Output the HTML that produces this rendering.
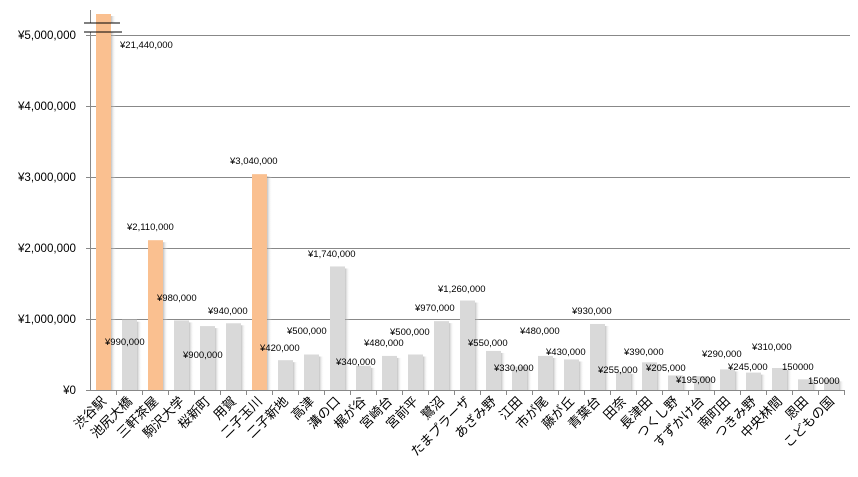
<!DOCTYPE html>
<html><head><meta charset="utf-8"><style>
html,body{margin:0;padding:0;background:#fff;width:858px;height:477px;overflow:hidden}
text{font-family:"Liberation Sans","Noto Sans CJK JP",sans-serif}
</style></head><body>
<svg width="858" height="477" xmlns="http://www.w3.org/2000/svg">
<defs><linearGradient id="sh" x1="0" x2="1"><stop offset="0" stop-color="#999" stop-opacity="0.6"/><stop offset="1" stop-color="#fff" stop-opacity="0"/></linearGradient></defs>
<g stroke="#888" stroke-width="1">
<line x1="90" y1="319.5" x2="850" y2="319.5"/>
<line x1="90" y1="248.5" x2="850" y2="248.5"/>
<line x1="90" y1="177.5" x2="850" y2="177.5"/>
<line x1="90" y1="106.5" x2="850" y2="106.5"/>
<line x1="90" y1="35.5" x2="850" y2="35.5"/>
</g>
<g id="bars"></g>
<g stroke="#888"><line x1="90.5" y1="10" x2="90.5" y2="390"/><line x1="86" y1="390.5" x2="845" y2="390.5"/>
<line x1="86" y1="319.5" x2="90" y2="319.5"/><line x1="86" y1="248.5" x2="90" y2="248.5"/><line x1="86" y1="177.5" x2="90" y2="177.5"/><line x1="86" y1="106.5" x2="90" y2="106.5"/><line x1="86" y1="35.5" x2="90" y2="35.5"/></g>
<rect x="84" y="23" width="38" height="9" fill="#fff"/>
<rect x="96" y="23" width="15" height="9" fill="#FAC090"/>
<line x1="84" y1="23" x2="120" y2="23" stroke="#000"/>
<line x1="84" y1="32" x2="122" y2="32" stroke="#000"/>
<g font-size="11.6" text-anchor="end" fill="#000">
<text x="76" y="394">¥0</text><text x="76" y="323">¥1,000,000</text><text x="76" y="252">¥2,000,000</text><text x="76" y="181">¥3,000,000</text><text x="76" y="110">¥4,000,000</text><text x="76" y="39">¥5,000,000</text>
</g>
<g id="lbl" font-size="9.5" fill="#000"></g>
<g id="cat" font-size="13" fill="#000"></g>
</svg>
<script>
var names=["渋谷駅","池尻大橋","三軒茶屋","駒沢大学","桜新町","用賀","二子玉川","二子新地","高津","溝の口","梶が谷","宮崎台","宮前平","鷺沼","たまプラーザ","あざみ野","江田","市が尾","藤が丘","青葉台","田奈","長津田","つくし野","すずかけ台","南町田","つきみ野","中央林間","恩田","こどもの国"];
var vals=[5.35e6,990000,2110000,980000,900000,940000,3040000,420000,500000,1740000,340000,480000,500000,970000,1260000,550000,330000,480000,430000,930000,255000,390000,205000,195000,290000,245000,310000,150000,150000];
var orange={0:1,2:1,6:1};
var ns="http://www.w3.org/2000/svg",b=document.getElementById("bars"),c=document.getElementById("cat"),l=document.getElementById("lbl");
function el(t,a,p){var e=document.createElementNS(ns,t);for(var k in a)e.setAttribute(k,a[k]);p.appendChild(e);return e;}
for(var i=0;i<29;i++){var x=90+26*i+6,h=Math.min(vals[i]*71/1e6,376),y=390-h;
el("rect",{x:x+15,y:y+2,width:5,height:h-2,fill:"url(#sh)"},b);
el("rect",{x:x,y:y,width:15,height:h,fill:orange[i]?"#FAC090":"#D9D9D9"},b);
var tx=90+26*(i+1);el("line",{x1:tx+.5,y1:390,x2:tx+.5,y2:395,stroke:"#888"},b);
var cx=90+26*i+13+4,t=el("text",{x:cx,y:402,"text-anchor":"end",transform:"rotate(-45 "+cx+" 402)"},c);t.textContent=names[i];}
var L=[["¥21,440,000",120,48],["¥990,000",105,345],["¥2,110,000",127,230],["¥980,000",157,301],["¥900,000",183,358],["¥940,000",208,314],["¥3,040,000",230,164],["¥420,000",260,351],["¥500,000",287,334],["¥1,740,000",308,257],["¥340,000",336,365],["¥480,000",364,346],["¥500,000",390,335],["¥970,000",415,311],["¥1,260,000",438,292],["¥550,000",468,346],["¥330,000",494,371],["¥480,000",520,334],["¥430,000",546,355],["¥930,000",572,314],["¥255,000",598,373],["¥390,000",624,355],["¥205,000",646,371],["¥195,000",676,383],["¥290,000",702,357],["¥245,000",728,370],["¥310,000",752,350],["150000",782,370],["150000",808,384]];
L.forEach(function(a){var t=el("text",{x:a[1],y:a[2]},l);t.textContent=a[0];});
</script>
</body></html>
